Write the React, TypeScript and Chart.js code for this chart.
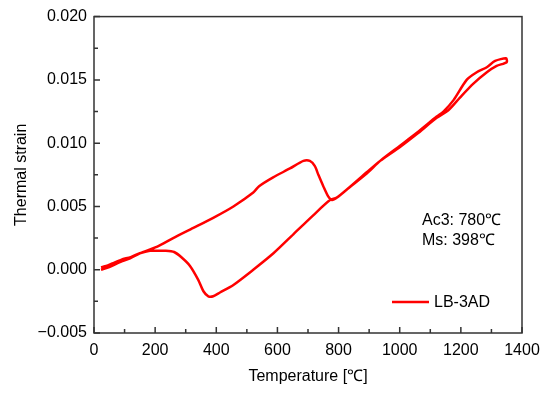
import React, { useEffect, useRef } from 'react';
import { Chart, registerables } from 'chart.js';

Chart.register(...registerables);

// Heating branch (°C, strain)
const heatT = [23, 50, 85, 118, 150, 205, 259, 325, 390, 456, 521, 540, 586, 641, 685, 706, 722, 734, 750, 766, 779, 795, 830, 892, 936, 1001, 1055, 1121, 1143, 1176, 1219, 1252, 1285, 1312, 1348, 1350];
const heatStrain = [0.0000, 0.0002, 0.0006, 0.0009, 0.0013, 0.0018, 0.0025, 0.0033, 0.0041, 0.0050, 0.0061, 0.0066, 0.0073, 0.0080, 0.0086, 0.0086, 0.0082, 0.0075, 0.0066, 0.0058, 0.0055, 0.0057, 0.0064, 0.0076, 0.0086, 0.0098, 0.0108, 0.0121, 0.0125, 0.0134, 0.0150, 0.0156, 0.0160, 0.0165, 0.0167, 0.0164];
// Cooling branch
const coolT = [1317, 1285, 1241, 1197, 1159, 1121, 1055, 1001, 936, 892, 830, 794, 772, 717, 652, 587, 521, 456, 412, 390, 374, 358, 341, 314, 285, 262, 235, 205, 183, 150, 120, 90, 60, 40, 23];
const coolStrain = [0.0161, 0.0156, 0.0147, 0.0136, 0.0126, 0.0120, 0.0107, 0.0097, 0.0086, 0.0077, 0.0064, 0.0057, 0.0055, 0.0043, 0.0028, 0.0013, 0.0000, -0.0012, -0.0018, -0.0021, -0.0021, -0.0017, -0.0008, 0.0003, 0.0010, 0.0014, 0.0015, 0.0015, 0.0015, 0.0013, 0.0010, 0.0008, 0.0005, 0.0003, 0.0002];

const seriesLabel = 'LB-3AD';
const notes = ['Ac3: 780℃', 'Ms: 398℃'];
const xTitle = 'Temperature [℃]';
const yTitle = 'Thermal strain';

const FONT = '"Liberation Sans", Arial, sans-serif';
const RED = '#ff0000';

const framePlugin = {
  id: 'frame',
  afterDraw(chart: any) {
    const { ctx, chartArea: a, scales } = chart;
    const xs = scales.x;
    const ys = scales.y;
    ctx.save();
    ctx.strokeStyle = '#333';
    ctx.lineWidth = 1.5;
    ctx.strokeRect(a.left, a.top, a.right - a.left, a.bottom - a.top);
    ctx.beginPath();
    for (let i = 0; i <= 14; i++) {
      const px = xs.getPixelForValue(i * 100);
      const len = i % 2 === 0 ? 6 : 4;
      ctx.moveTo(px, a.bottom);
      ctx.lineTo(px, a.bottom - len);
    }
    for (let i = 0; i <= 10; i++) {
      const py = ys.getPixelForValue(-0.005 + i * 0.0025);
      const len = i % 2 === 0 ? 6 : 4;
      ctx.moveTo(a.left, py);
      ctx.lineTo(a.left + len, py);
    }
    ctx.stroke();

    // annotations
    ctx.fillStyle = '#000';
    ctx.font = `16px ${FONT}`;
    ctx.textBaseline = 'middle';
    ctx.textAlign = 'left';
    ctx.fillText(notes[0], 422, 221);
    ctx.fillText(notes[1], 422, 241);

    // legend
    ctx.strokeStyle = RED;
    ctx.lineWidth = 2.5;
    ctx.beginPath();
    ctx.moveTo(392, 302);
    ctx.lineTo(429, 302);
    ctx.stroke();
    ctx.fillText(seriesLabel, 434, 303);
    ctx.restore();
  },
};

export default function App() {
  const ref = useRef<HTMLCanvasElement>(null);
  useEffect(() => {
    if (!ref.current) return;
    const pts = [
      ...heatT.map((t, i) => ({ x: t, y: heatStrain[i] })),
      ...coolT.map((t, i) => ({ x: t, y: coolStrain[i] })),
    ];
    const chart = new Chart(ref.current, {
      type: 'scatter',
      data: {
        datasets: [
          {
            label: seriesLabel,
            data: pts,
            showLine: true,
            borderColor: RED,
            backgroundColor: RED,
            borderWidth: 2.5,
            pointRadius: 0,
            tension: 0.25,
            fill: false,
          } as any,
        ],
      },
      options: {
        responsive: false,
        animation: false,
        layout: { padding: { top: 16, right: 28, left: 0, bottom: 0 } },
        plugins: { legend: { display: false }, tooltip: { enabled: false } },
        scales: {
          x: {
            type: 'linear',
            min: 0,
            max: 1400,
            grid: { display: false, drawTicks: false },
            border: { display: false },
            ticks: {
              stepSize: 200,
              color: '#000',
              font: { size: 16, family: FONT },
              padding: 8,
              maxRotation: 0,
              callback: (v: any) => String(Math.round(Number(v))),
            },
            title: { display: true, text: xTitle, color: '#000', font: { size: 16, family: FONT }, padding: { top: 0, bottom: 8 } },
            afterFit: (s: any) => { s.height = 61; },
          },
          y: {
            type: 'linear',
            min: -0.005,
            max: 0.02,
            grid: { display: false, drawTicks: false },
            border: { display: false },
            ticks: {
              stepSize: 0.005,
              color: '#000',
              font: { size: 16, family: FONT },
              padding: 7,
              callback: (v: any) => {
                const n = Number(v);
                const s = Math.abs(n) < 1e-9 ? '0.000' : n.toFixed(3);
                return s.replace('-', '\u2212');
              },
            },
            title: { display: true, text: yTitle, color: '#000', font: { size: 16, family: FONT }, padding: { top: 12, bottom: 0 } },
            afterFit: (s: any) => { s.width = 94; },
          },
        },
      },
      plugins: [framePlugin],
    });
    return () => chart.destroy();
  }, []);
  return (
    <div style={{ position: 'absolute', left: 0, top: 0, width: 550, height: 394, background: '#fff' }}>
      <canvas ref={ref} width={550} height={394} style={{ display: 'block' }} />
    </div>
  );
}
